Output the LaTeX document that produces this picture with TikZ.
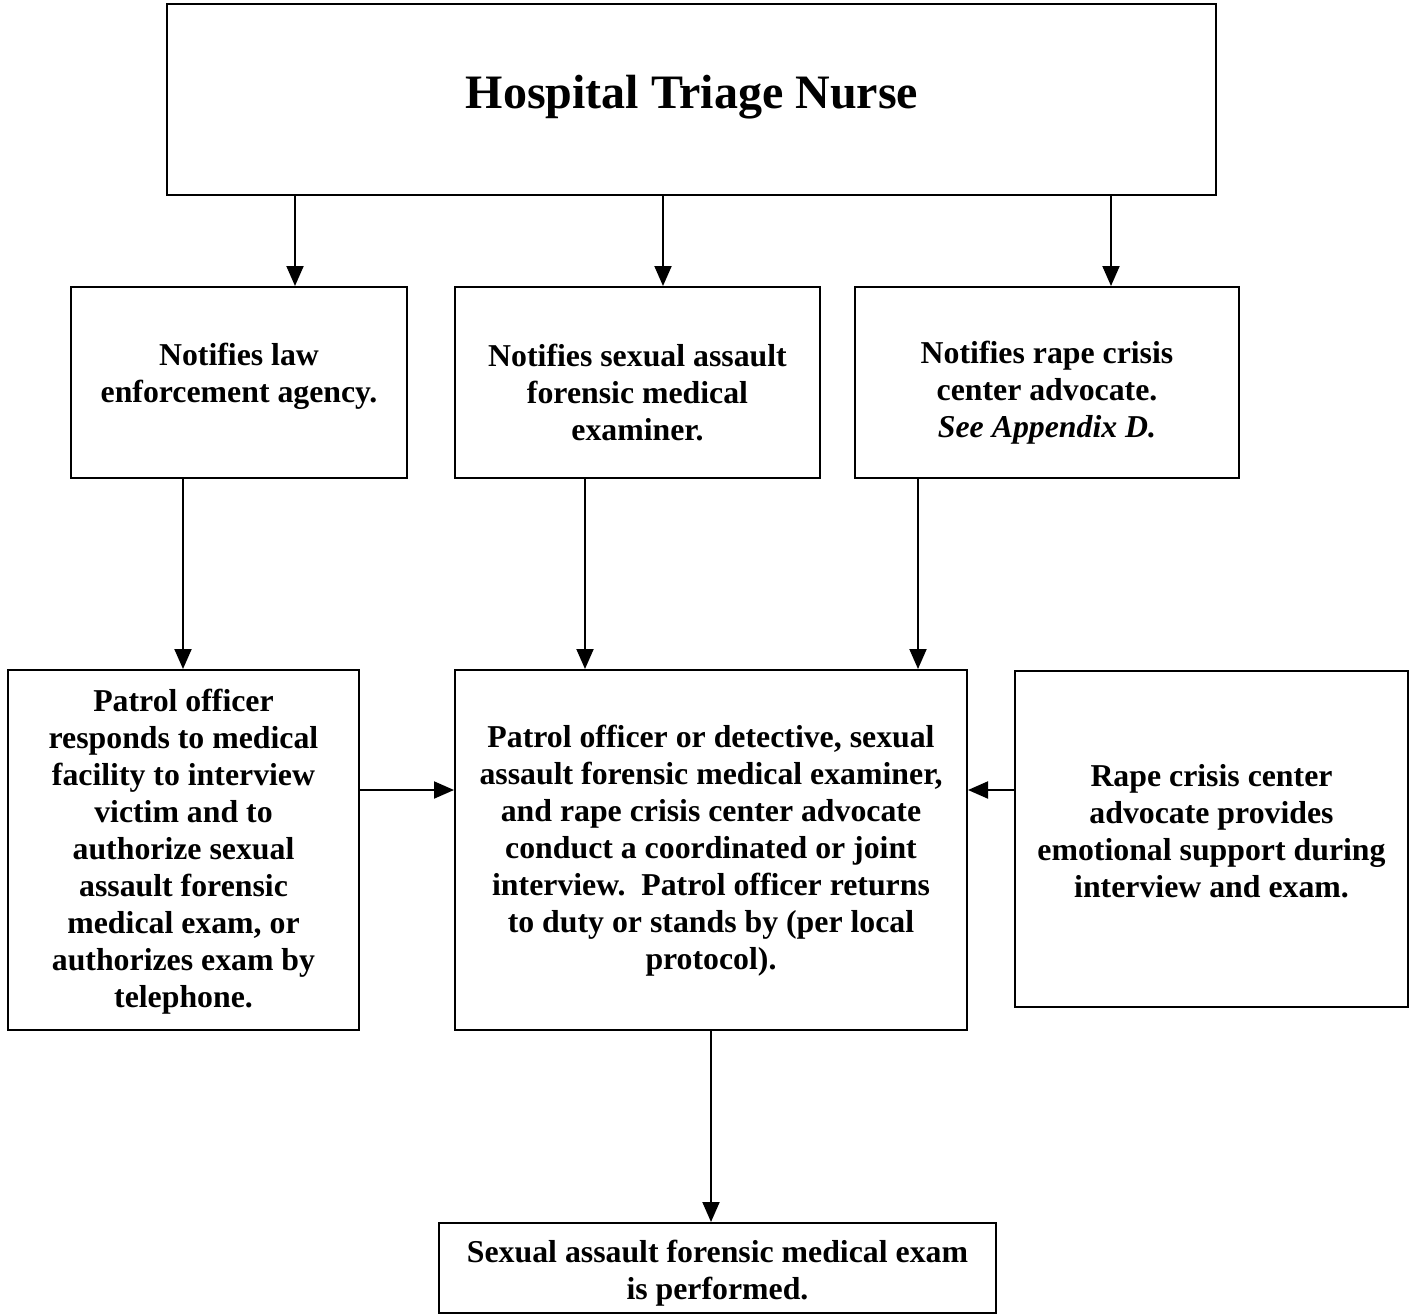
\documentclass[tikz,border=0pt]{standalone}
\usepackage{fontspec}
\setmainfont{Liberation Serif}
\usetikzlibrary{arrows.meta}
\begin{document}
\begin{tikzpicture}[x=1pt,y=-1pt,
 box/.style={draw, line width=2pt, inner sep=0pt},
 txt/.style={inner sep=0pt, align=center, font=\fontsize{31.8}{37}\selectfont\bfseries},
 arr/.style={line width=2pt, -{Triangle[length=20pt,width=17pt]}}]
\useasboundingbox[fill=white] (0,0) rectangle (1413,1314);
\node[box, minimum width=1049pt, minimum height=191pt] (top) at (691.5,99.5) {};
\node[txt, font=\fontsize{48}{52}\selectfont\bfseries] (ttop) at (692,97) {Hospital Triage Nurse};
\node[box, minimum width=336pt, minimum height=191pt] (b1) at (239,382.5) {};
\node[txt] (tb1) at (239,376.5) {Notifies law\\enforcement agency.};
\node[box, minimum width=365pt, minimum height=191pt] (b2) at (637.5,382.5) {};
\node[txt] (tb2) at (637.5,392.5) {Notifies sexual assault\\forensic medical\\examiner.};
\node[box, minimum width=384pt, minimum height=191pt] (b3) at (1047,382.5) {};
\node[txt] (tb3) at (1047,392.5) {Notifies rape crisis\\center advocate.\\\textit{See Appendix D.}};
\node[box, minimum width=351pt, minimum height=360pt] (c1) at (183.5,850) {};
\node[txt] (tc1) at (183.5,851.5) {Patrol officer\\responds to medical\\facility to interview\\victim and to\\authorize sexual\\assault forensic\\medical exam, or\\authorizes exam by\\telephone.};
\node[box, minimum width=512pt, minimum height=360pt] (c2) at (711,850) {};
\node[txt] (tc2) at (711,850.5) {Patrol officer or detective, sexual\\assault forensic medical examiner,\\and rape crisis center advocate\\conduct a coordinated or joint\\interview.\ \ Patrol officer returns\\to duty or stands by (per local\\protocol).};
\node[box, minimum width=393pt, minimum height=336pt] (c3) at (1211.5,839) {};
\node[txt] (tc3) at (1211.5,831.5) {Rape crisis center\\advocate provides\\emotional support during\\interview and exam.};
\node[box, minimum width=557pt, minimum height=90pt] (d) at (717.5,1268) {};
\node[txt] (td) at (717.5,1273.5) {Sexual assault forensic medical exam\\is performed.};
\coordinate (xa) at (295,0);
\coordinate (xb) at (663,0);
\coordinate (xc) at (1111,0);
\coordinate (xd) at (183,0);
\coordinate (xe) at (585,0);
\coordinate (xf) at (918,0);
\coordinate (xg) at (711,0);
\coordinate (ym) at (0,790);
\draw[arr] (top.south -| xa) -- (b1.north -| xa);
\draw[arr] (top.south -| xb) -- (b2.north -| xb);
\draw[arr] (top.south -| xc) -- (b3.north -| xc);
\draw[arr] (b1.south -| xd) -- (c1.north -| xd);
\draw[arr] (b2.south -| xe) -- (c2.north -| xe);
\draw[arr] (b3.south -| xf) -- (c2.north -| xf);
\draw[arr] (c1.east |- ym) -- (c2.west |- ym);
\draw[arr] (c3.west |- ym) -- (c2.east |- ym);
\draw[arr] (c2.south -| xg) -- (d.north -| xg);
\end{tikzpicture}
\end{document}
